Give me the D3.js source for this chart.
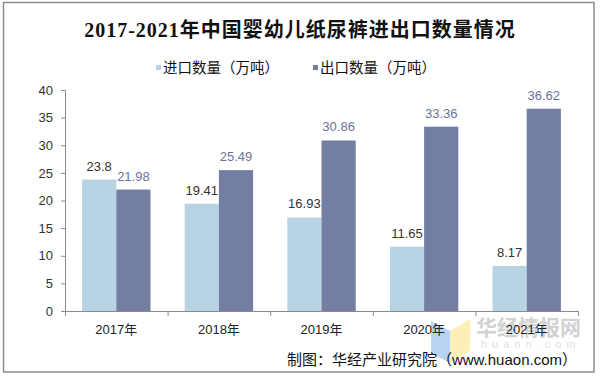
<!DOCTYPE html>
<html>
<head>
<meta charset="utf-8">
<script src="https://cdn.jsdelivr.net/npm/d3@7"></script>
<style>
    html, body { margin: 0; padding: 0; background: #fff; }
    svg text { font-family: "Liberation Sans", Arial, "Noto Sans CJK SC", sans-serif; }
</style>
</head>
<body>
<div id="chart"></div>
<script>
//Datos del gráfico
const years = ['2017年', '2018年', '2019年', '2020年', '2021年'];
const importValues = [23.8, 19.41, 16.93, 11.65, 8.17];
const exportValues = [21.98, 25.49, 30.86, 33.36, 36.62];
const seriesNames = ['进口数量（万吨）', '出口数量（万吨）'];
const yTicks = [0, 5, 10, 15, 20, 25, 30, 35, 40];

//Colores fijos
const COLOR_IMPORT = '#b8d3e4',
COLOR_EXPORT = '#737ea2',
COLOR_EXPORT_LABEL = '#6a7499',
COLOR_AXIS = '#8a8a8a';

let width = 600, height = 379;
let margin = {top: 90, right: 22, bottom: 68, left: 65};

let svg = d3.select('#chart')
    .append('svg')
    .attr('width', width)
    .attr('height', height);

//Marco
svg.append('rect')
    .attr('x', 3.5).attr('y', 2.5)
    .attr('width', 590.5).attr('height', 369.5)
    .attr('fill', 'none')
    .attr('stroke', '#8c8c8c')
    .attr('stroke-width', 1.5);

//Título
svg.append('text')
    .attr('x', 300).attr('y', 37)
    .attr('text-anchor', 'middle')
    .style('font-family', '"Liberation Serif", "Noto Sans CJK SC", serif')
    .style('font-size', '20px')
    .style('font-weight', 'bold')
    .style('letter-spacing', '1px')
    .attr('fill', '#111')
    .text('2017-2021年中国婴幼儿纸尿裤进出口数量情况');

//Leyenda
let legendX = [156, 313];
let legendColors = [COLOR_IMPORT, COLOR_EXPORT];
seriesNames.forEach(function(name, i) {
    svg.append('rect')
        .attr('x', legendX[i]).attr('y', 65)
        .attr('width', 5).attr('height', 5)
        .attr('fill', legendColors[i]);
    svg.append('text')
        .attr('x', legendX[i] + 7).attr('y', 73)
        .style('font-family', '"Noto Sans CJK SC", sans-serif')
        .style('font-size', '14.5px')
        .attr('fill', '#111')
        .text(name);
});

let x0 = d3.scaleBand()
    .domain(years)
    .range([margin.left, width - margin.right])
    .padding(0);

let x1 = d3.scaleBand()
    .domain(['import', 'export'])
    .range([0, x0.bandwidth()])
    .paddingInner(0)
    .paddingOuter(0.5);

let y = d3.scaleLinear()
    .domain([0, 40])
    .range([height - margin.bottom, margin.top]);

//Marca de agua
let wm = svg.append('g').attr('opacity', 0.75);
wm.append('polygon')
    .attr('points', '431,321 450,331 450,363 431,353')
    .attr('fill', '#9fc3ef');
wm.append('polygon')
    .attr('points', '450,331 470,319 470,351 450,363')
    .attr('fill', '#fcea9f');
wm.append('text')
    .attr('x', 476).attr('y', 335)
    .style('font-family', '"Noto Sans CJK SC", sans-serif')
    .style('font-size', '21px')
    .style('font-weight', 'bold')
    .attr('fill', '#c4c4c4')
    .text('华经情报网');
wm.append('text')
    .attr('x', 481).attr('y', 348)
    .style('font-size', '11px')
    .style('letter-spacing', '5px')
    .attr('fill', '#d6d6d6')
    .text('huaon.com');

//Eje Y
let yAxis = svg.append('g')
    .attr('transform', 'translate(' + margin.left + ',0)')
    .call(d3.axisLeft(y).tickValues(yTicks).tickSize(4).tickPadding(8));
yAxis.selectAll('path, line').attr('stroke', COLOR_AXIS);
yAxis.selectAll('text')
    .style('font-size', '13px')
    .attr('fill', '#333');

//Barras
let groups = svg.selectAll('.year')
    .data(years)
    .enter()
    .append('g')
    .attr('class', 'year')
    .attr('transform', function(d) { return 'translate(' + x0(d) + ',0)'; });

groups.append('rect')
    .attr('x', x1('import'))
    .attr('y', function(d, i) { return y(importValues[i]); })
    .attr('width', x1.bandwidth())
    .attr('height', function(d, i) { return y(0) - y(importValues[i]); })
    .attr('fill', COLOR_IMPORT);

groups.append('rect')
    .attr('x', x1('export'))
    .attr('y', function(d, i) { return y(exportValues[i]); })
    .attr('width', x1.bandwidth())
    .attr('height', function(d, i) { return y(0) - y(exportValues[i]); })
    .attr('fill', COLOR_EXPORT);

//Etiquetas
groups.append('text')
    .attr('x', x1('import') + x1.bandwidth() / 2)
    .attr('y', function(d, i) { return y(importValues[i]) - 9; })
    .attr('text-anchor', 'middle')
    .style('font-size', '13px')
    .attr('fill', '#333')
    .text(function(d, i) { return importValues[i]; });

groups.append('text')
    .attr('x', x1('export') + x1.bandwidth() / 2)
    .attr('y', function(d, i) { return y(exportValues[i]) - 9; })
    .attr('text-anchor', 'middle')
    .style('font-size', '13px')
    .attr('fill', COLOR_EXPORT_LABEL)
    .text(function(d, i) { return exportValues[i]; });

//Eje X
let xAxis = svg.append('g')
    .attr('transform', 'translate(0,' + y(0) + ')')
    .call(d3.axisBottom(x0).tickSize(0).tickPadding(14));
xAxis.select('.domain').attr('stroke', COLOR_AXIS);
xAxis.selectAll('text')
    .style('font-size', '13px')
    .attr('fill', '#222');

//Separadores entre categorías
let bounds = years.map(function(d) { return x0(d); }).concat([x0.range()[1]]);
xAxis.selectAll('.sep')
    .data(bounds)
    .enter()
    .append('line')
    .attr('class', 'sep')
    .attr('x1', function(d) { return d + 0.5; })
    .attr('x2', function(d) { return d + 0.5; })
    .attr('y1', 0)
    .attr('y2', 5)
    .attr('stroke', COLOR_AXIS);

//Fuente
svg.append('text')
    .attr('x', 577).attr('y', 365)
    .attr('text-anchor', 'end')
    .style('font-size', '15px')
    .attr('fill', '#111')
    .text('制图：华经产业研究院（www.huaon.com）');
</script>
</body>
</html>
